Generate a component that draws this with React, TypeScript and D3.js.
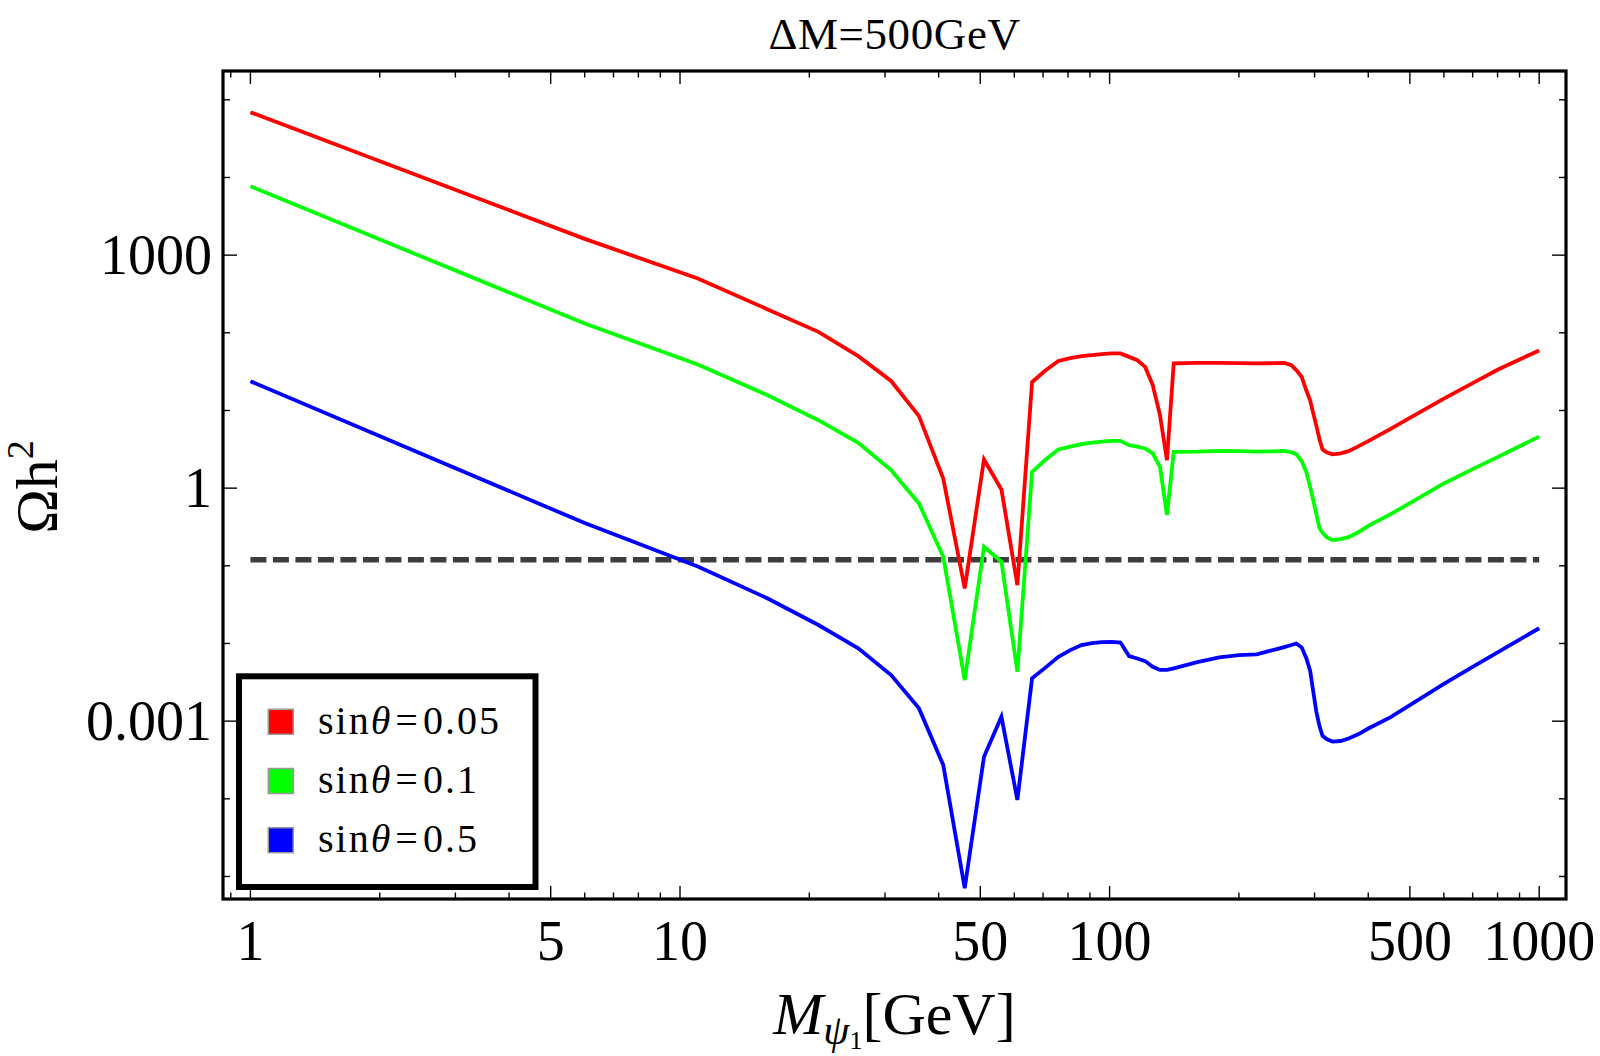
import { useEffect, useRef } from 'react';
import * as d3 from 'd3';

// Dark matter mass grid (GeV)
const massValues = [
  1, 6, 11, 16, 21, 26, 31, 36, 41, 46, 51, 56, 61, 66, 71, 76, 81, 86, 91, 96,
  101, 106, 111, 116, 121, 126, 131, 136, 141, 160, 180, 200, 220, 240, 255, 265,
  272, 280, 287, 293, 298, 303, 308, 313, 320, 330, 345, 360, 380, 400, 450, 500,
  600, 700, 800, 900, 1000,
];

// relic density for sin(theta) = 0.05
const omegaSin005 = [
  69200, 1620, 500, 200, 103, 50, 24, 8.45, 1.33, 0.0512, 2.34, 0.962, 0.0565, 23.3,
  33.0, 43.4, 47.3, 50.0, 51.5, 53.0, 54.2, 54.2, 49.0, 44.4, 36.4, 21.2, 8.7, 2.29,
  40.3, 40.9, 41.0, 40.8, 40.4, 40.6, 41.0, 38.3, 33.1, 27.0, 18.2, 13.4, 9.1, 6.31,
  4.27, 3.16, 2.9, 2.72, 2.8, 2.99, 3.47, 4.03, 5.75, 8.04, 14.2, 22.5, 33.4, 45.3, 59.3,
];

// relic density for sin(theta) = 0.1
const omegaSin01 = [
  7710, 131.5, 39.1, 15.7, 7.5, 3.83, 1.71, 0.635, 0.131, 0.00338, 0.176, 0.113,
  0.00433, 1.62, 2.34, 3.15, 3.42, 3.68, 3.85, 3.96, 4.06, 4.06, 3.57, 3.42, 3.24,
  2.8, 1.88, 0.45, 2.93, 2.95, 3.02, 2.99, 2.95, 2.97, 3.02, 2.9, 2.74, 2.22, 1.61,
  1.03, 0.692, 0.456, 0.305, 0.267, 0.234, 0.214, 0.221, 0.234, 0.272, 0.327, 0.459,
  0.641, 1.15, 1.76, 2.51, 3.47, 4.61,
];

// relic density for sin(theta) = 0.5
const omegaSin05 = [
  23.8, 0.355, 0.0982, 0.038, 0.0173, 0.00865, 0.00392, 0.00146, 2.72e-4, 7.05e-6,
  3.48e-4, 1.14e-3, 9.66e-5, 3.56e-3, 4.92e-3, 6.75e-3, 8.22e-3, 9.53e-3, 0.0101,
  0.0104, 0.0105, 0.0103, 6.89e-3, 6.4e-3, 5.93e-3, 5.01e-3, 4.57e-3, 4.57e-3,
  4.79e-3, 5.75e-3, 6.61e-3, 7.08e-3, 7.24e-3, 8.22e-3, 8.99e-3, 9.55e-3, 0.01,
  8.91e-3, 6.46e-3, 4.42e-3, 2.37e-3, 1.31e-3, 8.65e-4, 6.46e-4, 5.89e-4, 5.46e-4,
  5.55e-4, 5.97e-4, 6.82e-4, 8.04e-4, 1.12e-3, 1.61e-3, 3.01e-3, 5.01e-3, 7.66e-3,
  0.0112, 0.0157,
];

const planckValue = 0.12;

const seriesLabels = ['0.05', '0.1', '0.5'];
const seriesColors = ['#ff0000', '#00ff00', '#0000ff'];

const xMajorTicks = [1, 5, 10, 50, 100, 500, 1000];
const xMinorTicks = [0.9, 2, 3, 4, 6, 7, 8, 9, 20, 30, 40, 60, 70, 80, 90, 200, 300, 400, 600, 700, 800, 900];
const yMajorTicks = [1000, 1, 0.001];
const yMinorTicks = [1e5, 1e4, 100, 10, 0.1, 0.01, 1e-4, 1e-5];

const WIDTH = 1600;
const HEIGHT = 1056;
const FONT = '"Liberation Serif", "Times New Roman", serif';

const RelicChart = () => {
  const svgRef = useRef<SVGSVGElement>(null);

  useEffect(() => {
    if (!svgRef.current) return;
    d3.select(svgRef.current).selectAll('*').remove();

    const margin = { top: 71, right: 34, bottom: 157, left: 223 };
    const x0 = margin.left;
    const x1 = WIDTH - margin.right;
    const y0 = margin.top;
    const y1 = HEIGHT - margin.bottom;

    const svg = d3.select(svgRef.current)
      .attr('width', WIDTH)
      .attr('height', HEIGHT)
      .style('font-family', FONT);

    const xScale = d3.scaleLog().domain([0.8633, 1154.5]).range([x0, x1]);
    const yScale = d3.scaleLog().domain([Math.pow(10, -5.29), Math.pow(10, 5.371)]).range([y1, y0]);

    // Planck line
    svg.append('line')
      .attr('x1', xScale(1))
      .attr('x2', xScale(1000))
      .attr('y1', yScale(planckValue))
      .attr('y2', yScale(planckValue))
      .attr('stroke', '#333')
      .attr('stroke-opacity', 0.95)
      .attr('stroke-width', 5.5)
      .attr('stroke-dasharray', '16,6.5');

    // Curves
    const line = d3.line<[number, number]>()
      .x(d => xScale(d[0]))
      .y(d => yScale(d[1]));

    [omegaSin005, omegaSin01, omegaSin05].forEach((vals, i) => {
      svg.append('path')
        .datum(massValues.map((m, j) => [m, vals[j]] as [number, number]))
        .attr('fill', 'none')
        .attr('stroke', seriesColors[i])
        .attr('stroke-width', 3.8)
        .attr('stroke-linejoin', 'miter')
        .attr('d', line);
    });

    // Ticks on all four sides
    const ticks = svg.append('g').attr('stroke', '#000').attr('stroke-width', 1.4);
    const xTick = (vals: number[], len: number) => {
      vals.forEach(v => {
        const x = xScale(v);
        ticks.append('line').attr('x1', x).attr('x2', x).attr('y1', y1).attr('y2', y1 - len);
        ticks.append('line').attr('x1', x).attr('x2', x).attr('y1', y0).attr('y2', y0 + len);
      });
    };
    const yTick = (vals: number[], len: number) => {
      vals.forEach(v => {
        const y = yScale(v);
        ticks.append('line').attr('x1', x0).attr('x2', x0 + len).attr('y1', y).attr('y2', y);
        ticks.append('line').attr('x1', x1).attr('x2', x1 - len).attr('y1', y).attr('y2', y);
      });
    };
    xTick(xMajorTicks, 13);
    xTick(xMinorTicks, 6.5);
    yTick(yMajorTicks, 14);
    yTick(yMinorTicks, 7);

    // Frame
    svg.append('rect')
      .attr('x', x0)
      .attr('y', y0)
      .attr('width', x1 - x0)
      .attr('height', y1 - y0)
      .attr('fill', 'none')
      .attr('stroke', '#000')
      .attr('stroke-width', 3.2);

    // Tick labels
    svg.append('g')
      .selectAll('text')
      .data(xMajorTicks)
      .enter()
      .append('text')
      .attr('x', d => xScale(d))
      .attr('y', 960)
      .attr('text-anchor', 'middle')
      .style('font-size', '56px')
      .text(d => `${d}`);

    svg.append('g')
      .selectAll('text')
      .data(yMajorTicks)
      .enter()
      .append('text')
      .attr('x', x0 - 11)
      .attr('y', d => yScale(d) + 19)
      .attr('text-anchor', 'end')
      .style('font-size', '56px')
      .text(d => (d < 1 ? d.toFixed(3) : `${d}`));

    // Title
    svg.append('text')
      .attr('x', (x0 + x1) / 2)
      .attr('y', 49)
      .attr('text-anchor', 'middle')
      .style('font-size', '45px')
      .style('letter-spacing', '0.6px')
      .text('ΔM=500GeV');

    // X axis label
    const xl = svg.append('text')
      .attr('x', (x0 + x1) / 2)
      .attr('y', 1034)
      .attr('text-anchor', 'middle')
      .style('font-size', '60px');
    xl.append('tspan').style('font-style', 'italic').text('M');
    xl.append('tspan').style('font-style', 'italic').style('font-size', '42px').attr('dy', 10).text('ψ');
    xl.append('tspan').style('font-size', '26px').attr('dy', 5).text('1');
    xl.append('tspan').attr('dy', -15).text('[GeV]');

    // Y axis label
    const yl = svg.append('text')
      .attr('transform', `translate(57, ${(y0 + y1) / 2 + 2}) rotate(-90)`)
      .attr('text-anchor', 'middle')
      .style('font-size', '60px');
    yl.append('tspan').text('Ωh');
    yl.append('tspan').style('font-size', '38px').attr('dy', -24).text('2');

    // Legend
    const legend = svg.append('g');
    legend.append('rect')
      .attr('x', 239)
      .attr('y', 676.3)
      .attr('width', 296.5)
      .attr('height', 210.7)
      .attr('fill', '#fff')
      .attr('stroke', '#000')
      .attr('stroke-width', 6);

    seriesLabels.forEach((label, i) => {
      const row = legend.append('g').attr('transform', `translate(0, ${i * 59.2})`);
      row.append('rect')
        .attr('x', 268.3)
        .attr('y', 709.3)
        .attr('width', 25)
        .attr('height', 25)
        .attr('fill', seriesColors[i])
        .attr('stroke', '#999')
        .attr('stroke-width', 1.5);
      const t = row.append('text')
        .attr('x', 318)
        .attr('y', 733.5)
        .style('font-size', '40px')
        .style('letter-spacing', '2px');
      t.append('tspan').text('sin');
      t.append('tspan').style('font-style', 'italic').text('θ');
      t.append('tspan').attr('dx', 3).text('=');
      t.append('tspan').attr('dx', 3).text(label);
    });
  }, []);

  return <svg ref={svgRef} style={{ position: 'absolute', left: 0, top: 0, display: 'block' }} />;
};

export default function App() {
  return (
    <div style={{ width: WIDTH, height: HEIGHT, background: '#fff' }}>
      <RelicChart />
    </div>
  );
}
